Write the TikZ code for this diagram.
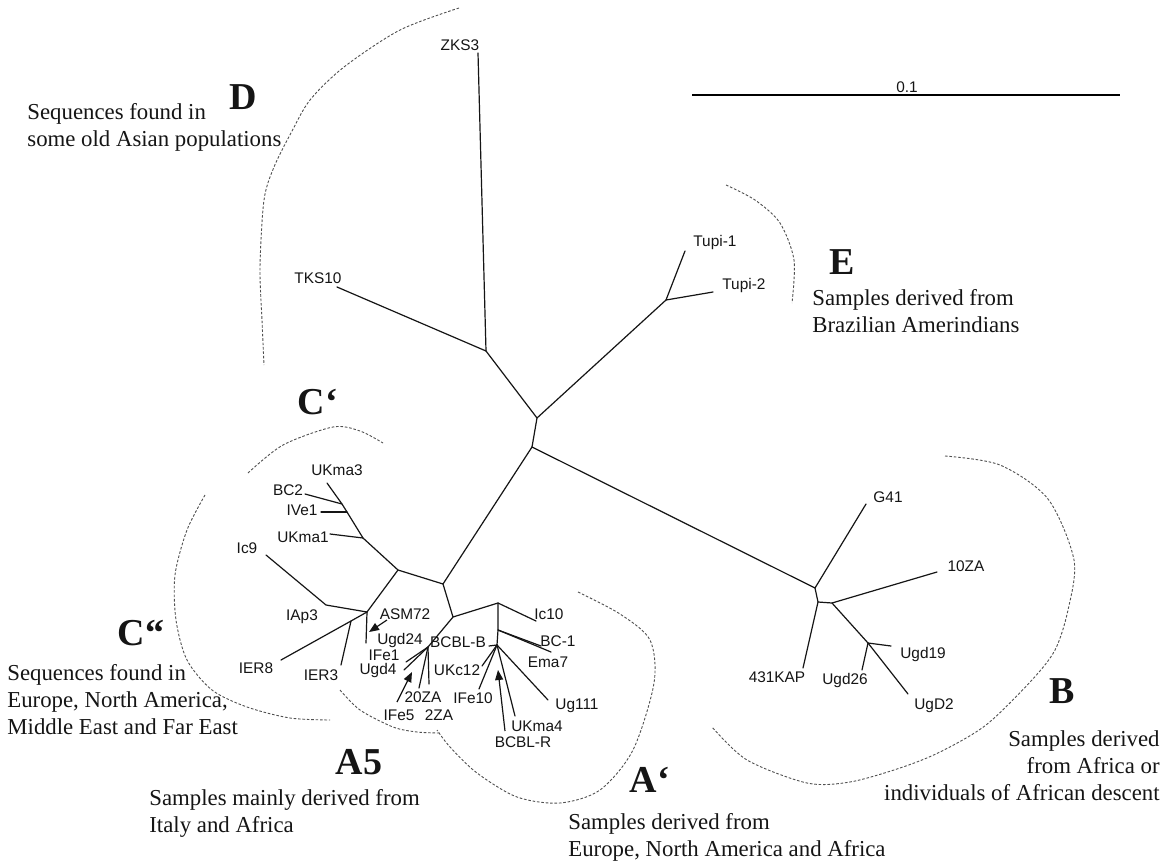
\documentclass[tikz,border=0pt]{standalone}
\usepackage{fontspec}
\setmainfont{Liberation Serif}
\newfontfamily\labelfont{Liberation Sans}
\usetikzlibrary{arrows.meta}
\definecolor{ink}{HTML}{151515}
\definecolor{hullgray}{HTML}{505050}
\tikzset{
  branchline/.style={line width=0.6pt, color=ink, line cap=round},
  hull/.style={line width=0.45pt, color=hullgray, dash pattern=on 1.3pt off 0.9pt},
  taxon/.style={font=\labelfont\fontsize{7.7}{9}\selectfont, inner sep=0pt, text=ink},
  clade/.style={font=\fontsize{19}{22}\selectfont\bfseries, inner sep=0pt, text=ink},
  note/.style={font=\fontsize{11.4}{13.5}\selectfont, inner sep=0pt, align=left, text=ink},
  pointer/.style={-{Triangle[length=5pt,width=4pt]}, line width=0.6pt, color=ink},
}
\begin{document}
\begin{tikzpicture}[x=0.5pt,y=-0.5pt]
\fill[white] (0,0) rectangle (1172,862);
\useasboundingbox (0,0) rectangle (1172,862);

\coordinate (barL) at (692,95);
\coordinate (barR) at (1120,95);
\draw[line width=0.8pt] (barL) -- (barR);
\node[taxon] (bar) at (907,87) {0.1};

\coordinate (r1) at (537,418);
\coordinate (r2) at (532,447);
\coordinate (dn) at (486,351);
\coordinate (tn) at (666,300);
\coordinate (bn1) at (815,588);
\coordinate (bn2) at (818,602);
\coordinate (bn3) at (832,603);
\coordinate (nug) at (868,643);
\coordinate (nc) at (443,584);
\coordinate (ncp) at (398,570);
\coordinate (nu1) at (363,538);
\coordinate (nv) at (347,512);
\coordinate (nb) at (342,504);
\coordinate (nas) at (367,612);
\coordinate (ni) at (326,605);
\coordinate (ne) at (351,621);
\coordinate (na) at (453,617);
\coordinate (na5) at (428,647);
\coordinate (nap) at (498,603);
\coordinate (nap2) at (498,630);
\coordinate (nap3) at (497,645);

\coordinate (tZKS3) at (478,53);
\coordinate (tTKS10) at (337,287);
\coordinate (tTupiA) at (685,251);
\coordinate (tTupiB) at (713,292);
\coordinate (tG41) at (866,504);
\coordinate (t10ZA) at (937,572);
\coordinate (tUgd19) at (891,646);
\coordinate (tUgd26) at (862,670);
\coordinate (tUgD2) at (908,694);
\coordinate (tKAP) at (803,668);
\coordinate (tUKma3) at (327,483);
\coordinate (tBC2) at (305,494);
\coordinate (tIVe1) at (321,512);
\coordinate (tUKma1) at (330,534);
\coordinate (tIc9) at (266,555);
\coordinate (tIER8) at (281,660);
\coordinate (tIER3) at (341,665);
\coordinate (tUgd24) at (366,643);
\coordinate (tIFe1) at (406,662);
\coordinate (tUgd4) at (404,670);
\coordinate (t20ZA) at (419,688);
\coordinate (t2ZA) at (429,684);
\coordinate (tIc10) at (536,621);
\coordinate (tBC1) at (541,646);
\coordinate (tEma7) at (551,652);
\coordinate (tUg111) at (548,700);
\coordinate (tUKma4) at (515,716);
\coordinate (tIFe10) at (479,689);
\coordinate (tBCBLB) at (489,646);
\coordinate (tUKc12) at (482,666);

\draw[branchline] (tZKS3) -- (dn) -- (r1) -- (r2);
\draw[branchline] (tTKS10) -- (dn);
\draw[branchline] (r1) -- (tn) -- (tTupiA);
\draw[branchline] (tn) -- (tTupiB);
\draw[branchline] (r2) -- (bn1) -- (tG41);
\draw[branchline] (bn1) -- (bn2) -- (bn3) -- (t10ZA);
\draw[branchline] (bn2) -- (tKAP);
\draw[branchline] (bn3) -- (nug) -- (tUgd19);
\draw[branchline] (nug) -- (tUgd26);
\draw[branchline] (nug) -- (tUgD2);
\draw[branchline] (r2) -- (nc) -- (ncp) -- (nu1) -- (nv) -- (nb) -- (tUKma3);
\draw[branchline] (nu1) -- (tUKma1);
\draw[branchline] (nv) -- (tIVe1);
\draw[branchline] (nb) -- (tBC2);
\draw[branchline] (ncp) -- (nas) -- (ni) -- (tIc9);
\draw[branchline] (nas) -- (ne) -- (tIER8);
\draw[branchline] (ne) -- (tIER3);
\draw[branchline] (nas) -- (tUgd24);
\draw[branchline] (nc) -- (na) -- (nap) -- (tIc10);
\draw[branchline] (nap) -- (nap2) -- (nap3);
\draw[branchline] (nap2) -- (tBC1);
\draw[branchline] (nap2) -- (tEma7);
\draw[branchline] (nap3) -- (tUg111);
\draw[branchline] (nap3) -- (tUKma4);
\draw[branchline] (nap3) -- (tIFe10);
\draw[branchline] (nap3) -- (tBCBLB);
\draw[branchline] (nap3) -- (tUKc12);
\draw[branchline] (na) -- (na5) -- (tIFe1);
\draw[branchline] (na5) -- (tUgd4);
\draw[branchline] (na5) -- (t20ZA);
\draw[branchline] (na5) -- (t2ZA);

\coordinate (pA1) at (387,620);
\coordinate (pA2) at (369,632);
\coordinate (pF1) at (397,702);
\coordinate (pF2) at (412,672);
\coordinate (pR1) at (505,731);
\coordinate (pR2) at (498,670);
\draw[pointer] (pA1) -- (pA2);
\draw[pointer] (pF1) -- (pF2);
\draw[pointer] (pR1) -- (pR2);

\node[taxon] (lZKS3) at (460,45) {ZKS3};
\node[taxon] (lTKS10) at (318,278) {TKS10};
\node[taxon, anchor=west] (lTupiA) at (693,243) {Tupi-1};
\node[taxon, anchor=west] (lTupiB) at (722,286) {Tupi-2};
\node[taxon] (lG41) at (888,497) {G41};
\node[taxon] (l10ZA) at (966,566) {10ZA};
\node[taxon] (lUgd19) at (923,655) {Ugd19};
\node[taxon] (lUgd26) at (845,681) {Ugd26};
\node[taxon] (lUgD2) at (934,706) {UgD2};
\node[taxon] (lKAP) at (777,677) {431KAP};
\node[taxon] (lUKma3) at (337,470) {UKma3};
\node[taxon] (lBC2) at (288,490) {BC2};
\node[taxon] (lIVe1) at (302,510) {IVe1};
\node[taxon] (lUKma1) at (303,537) {UKma1};
\node[taxon] (lIc9) at (247,548) {Ic9};
\node[taxon] (lIAp3) at (302,617) {IAp3};
\node[taxon] (lIER8) at (256,668) {IER8};
\node[taxon] (lIER3) at (321,675) {IER3};
\node[taxon] (lASM72) at (405,614) {ASM72};
\node[taxon] (lUgd24) at (400,641) {Ugd24};
\node[taxon] (lIFe1) at (384,655) {IFe1};
\node[taxon] (lUgd4) at (378,671) {Ugd4};
\node[taxon] (l20ZA) at (423,697) {20ZA};
\node[taxon] (lIFe5) at (399,715) {IFe5};
\node[taxon] (l2ZA) at (439,715) {2ZA};
\node[taxon] (lBCBLB) at (458,642) {BCBL-B};
\node[taxon] (lUKc12) at (457,670) {UKc12};
\node[taxon] (lIFe10) at (473,698) {IFe10};
\node[taxon] (lIc10) at (549,614) {Ic10};
\node[taxon] (lBC1) at (558,641) {BC-1};
\node[taxon] (lEma7) at (548,662) {Ema7};
\node[taxon] (lUg111) at (577,706) {Ug111};
\node[taxon] (lUKma4) at (537,726) {UKma4};
\node[taxon] (lBCBLR) at (523,742) {BCBL-R};

\draw[hull] plot[smooth] coordinates {(459,8) (400,30) (344,67) (310,100) (291,133) (274,167) (264,200) (260,267) (262,320) (264,365)};
\draw[hull] plot[smooth] coordinates {(726,185) (755,200) (780,223) (794,260) (792,303)};
\draw[hull] plot[smooth] coordinates {(248,473) (283,445) (333,427) (360,431) (383,443)};
\draw[hull] plot[smooth] coordinates {(205,495) (187,530) (175,575) (176,620) (187,660) (212,690) (247,707) (290,718) (330,720)};
\draw[hull] plot[smooth] coordinates {(340,690) (360,710) (393,727) (417,732) (440,733)};
\draw[hull] plot[smooth] coordinates {(578,592) (620,614) (650,640) (654,683) (633,750) (600,790) (560,803) (517,797) (477,773) (450,747) (437,730)};
\draw[hull] plot[smooth] coordinates {(945,456) (1000,465) (1048,499) (1074,560) (1068,610) (1055,650) (1031,681) (986,725) (940,752) (900,768) (850,782) (807,783) (747,760) (712,727)};

\node[clade] (cD) at (243,97) {D};
\node[clade] (cE) at (842,262) {E};
\node[clade] (cCa) at (318,402) {C‘};
\node[clade] (cCb) at (141,633) {C“};
\node[clade] (cA5) at (359,762) {A5};
\node[clade] (cAa) at (650,780) {A‘};
\node[clade] (cB) at (1062,691) {B};

\node[note, anchor=north west] (nD) at (27,103) {Sequences found in\\some old Asian populations};
\node[note, anchor=north west] (nE) at (812,289) {Samples derived from\\Brazilian Amerindians};
\node[note, anchor=north west] (nCb) at (7,664) {Sequences found in\\Europe, North America,\\Middle East and Far East};
\node[note, anchor=north west] (nA5) at (149,789) {Samples mainly derived from\\Italy and Africa};
\node[note, anchor=north west] (nAa) at (568,813) {Samples derived from\\Europe, North America and Africa};
\node[note, anchor=north east, align=right] (nB) at (1160,730) {Samples derived\\from Africa or\\individuals of African descent};
\end{tikzpicture}
\end{document}
